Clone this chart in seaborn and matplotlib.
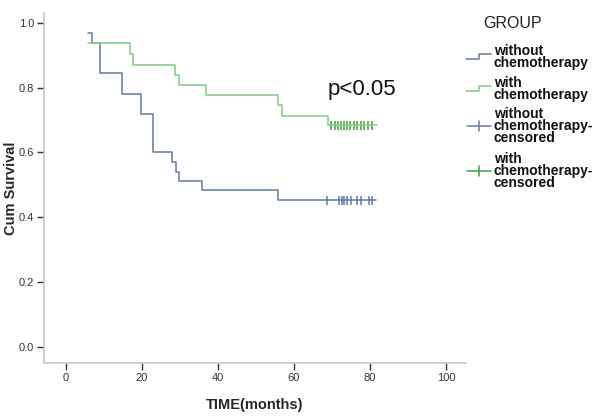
import pandas as pd
import seaborn as sns
import matplotlib.pyplot as plt
from matplotlib.lines import Line2D

# Kaplan-Meier step curves (time in months, cumulative survival)
without_time = [5.9, 7.0, 9.0, 14.9, 19.8, 22.9, 27.9, 29.0, 29.9, 35.9, 55.9, 81.7]
without_surv = [0.969, 0.938, 0.844, 0.781, 0.719, 0.603, 0.572, 0.541, 0.512, 0.483, 0.452, 0.452]
with_time = [5.9, 16.9, 17.8, 28.8, 29.9, 36.9, 55.9, 56.8, 69.0, 81.8]
with_surv = [0.938, 0.903, 0.871, 0.840, 0.809, 0.778, 0.745, 0.714, 0.684, 0.684]

# censored observations
without_cens = [68.8, 72.0, 72.6, 73.2, 74.0, 75.0, 76.7, 77.6, 79.8, 80.7]
with_cens = [69.8, 70.8, 71.6, 72.4, 73.2, 74.0, 74.9, 75.8, 76.7, 77.6, 78.6, 79.6, 80.7]

groups = ["without chemotherapy", "with chemotherapy"]
x_ticks = [0, 20, 40, 60, 80, 100]
y_ticks = [0.0, 0.2, 0.4, 0.6, 0.8, 1.0]

BLUE = "#6479a3"
GREEN = "#80cc80"
GREEN_CENS = "#3f9f3f"


def px(x, y):
    # figure pixel -> figure fraction
    return x / 600, 1 - y / 419


def main():
    sns.set_style("white")
    plt.rcParams["font.family"] = ["Liberation Sans", "DejaVu Sans"]

    curves = pd.concat([
        pd.DataFrame({"time": without_time, "surv": without_surv, "group": groups[0]}),
        pd.DataFrame({"time": with_time, "surv": with_surv, "group": groups[1]}),
    ])
    last_without = without_surv[-1]
    last_with = with_surv[-1]
    cens = pd.concat([
        pd.DataFrame({"time": without_cens, "surv": last_without, "group": groups[0]}),
        pd.DataFrame({"time": with_cens, "surv": last_with, "group": groups[1]}),
    ])

    fig = plt.figure(figsize=(6, 4.19), dpi=100)
    ax = fig.add_axes([44 / 600, 1 - 363 / 419, (466 - 44) / 600, (363 - 13) / 419])

    sns.lineplot(data=curves, x="time", y="surv", hue="group",
                 palette={groups[0]: BLUE, groups[1]: GREEN},
                 estimator=None, sort=False, drawstyle="steps-post",
                 linewidth=1.1, legend=False, ax=ax)
    sns.scatterplot(data=cens, x="time", y="surv", hue="group",
                    palette={groups[0]: BLUE, groups[1]: GREEN_CENS},
                    marker="|", s=45, linewidth=1.1, legend=False, ax=ax)

    ax.text(68.8, 0.778, "p<0.05", fontsize=16, color="#111111")

    ax.set_xlim(-5.7, 105.3)
    ax.set_ylim(-0.049, 1.03)
    ax.set_xticks(x_ticks)
    ax.set_yticks(y_ticks)
    ax.set_yticklabels([f"{v:.1f}" for v in y_ticks])
    ax.tick_params(axis="both", direction="out", length=5, width=1,
                   color="#333333", labelsize=8, labelcolor="#333333", pad=2, left=True, bottom=True)
    for side in ["top", "right"]:
        ax.spines[side].set_visible(False)
    for side in ["left", "bottom"]:
        ax.spines[side].set_color("#c8c8c8")
        ax.spines[side].set_linewidth(1.2)

    ax.set_xlabel("TIME(months)", fontsize=10.5, fontweight="bold", labelpad=11)
    ax.set_ylabel("Cum Survival", fontsize=10.5, fontweight="bold", labelpad=1)

    # hand-built legend like the SPSS output
    fig.text(*px(513, 24), "GROUP", fontsize=11.5, ha="center", va="center", color="#222222")
    entries = [
        ("without\nchemotherapy", 57, "step", BLUE),
        ("with\nchemotherapy", 89, "step", GREEN),
        ("without\nchemotherapy-\ncensored", 126, "cross", BLUE),
        ("with\nchemotherapy-\ncensored", 171, "cross", GREEN_CENS),
    ]
    for label, yc, kind, color in entries:
        if kind == "step":
            xs = [466, 479, 479, 491]
            ys = [yc + 2, yc + 2, yc - 3, yc - 3]
        else:
            xs = [467, 491]
            ys = [yc, yc]
            vx, vy = zip(px(479, yc - 5), px(479, yc + 5))
            fig.add_artist(Line2D(vx, vy, color=color, lw=1.1, transform=fig.transFigure))
        fx, fy = zip(*[px(a, b) for a, b in zip(xs, ys)])
        fig.add_artist(Line2D(fx, fy, color=color, lw=1.1, transform=fig.transFigure))
        fig.text(*px(494, yc), label, fontsize=10, fontweight="bold", ha="left", va="center",
                 linespacing=0.85, color="#111111")

    fig.savefig("out.png", dpi=100)


if __name__ == "__main__":
    main()
